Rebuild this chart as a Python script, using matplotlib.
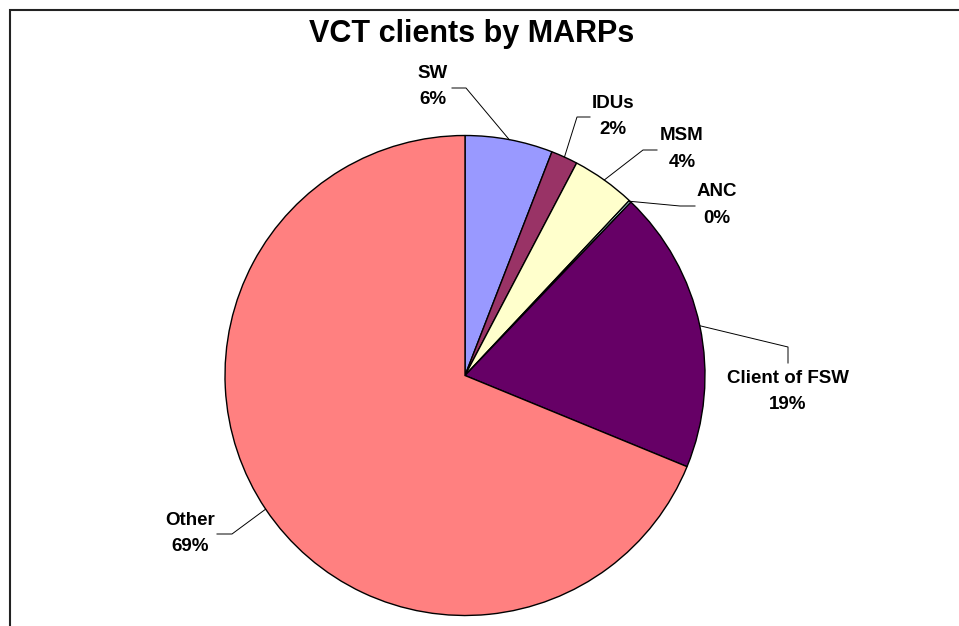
import matplotlib
matplotlib.use("Agg")
import matplotlib.pyplot as plt
from matplotlib.patches import Rectangle
import numpy as np

# ---- data ----
categories = ["SW", "IDUs", "MSM", "ANC", "Client of FSW", "Other"]
values = [5.9, 1.8, 4.3, 0.15, 19.05, 68.8]
colors = ["#9999FF", "#993366", "#FFFFCC", "#CCFFFF", "#660066", "#FF8080"]
title = "VCT clients by MARPs"

# ---- layout (pixel coords, y measured from top) ----
W, H = 959, 626
center_px = (465, 375.5)
radius_px = 240
label_pos = [(433, 86.5), (613, 116.5), (682, 149), (717, 205), (788, 391.5), (190, 533.5)]
# leader: (start of line near text, elbow)
leader_pts = [
    [(452, 88), (466, 88)],
    [(590, 117), (577, 117)],
    [(657, 150), (643, 150)],
    [(695, 206), (680, 206)],
    [(788, 363), (788, 347)],
    [(217, 534), (232, 534)],
]

plt.rcParams['font.family'] = ['Liberation Sans', 'DejaVu Sans']

fig = plt.figure(figsize=(W / 100, H / 100), dpi=100)
ax = fig.add_axes([0, 0, 1, 1])

cx, cy = center_px[0], H - center_px[1]
wedges, _ = ax.pie(values, colors=colors, startangle=90, counterclock=False,
                   center=(cx, cy), radius=radius_px, frame=True,
                   wedgeprops=dict(edgecolor='black', linewidth=1.0))
ax.set_xlim(0, W)
ax.set_ylim(0, H)
ax.set_aspect('auto')
ax.axis('off')

total = sum(values)
for w, cat, v, lp, lpts in zip(wedges, categories, values, label_pos, leader_pts):
    mid = np.deg2rad((w.theta1 + w.theta2) / 2)
    ex = cx + radius_px * np.cos(mid)
    ey = cy + radius_px * np.sin(mid)
    pct = int(round(v / total * 100))
    ax.text(lp[0], H - lp[1], f"{cat}\n{pct}%", ha='center', va='center',
            fontsize=13.5, fontweight='bold', linespacing=1.7)
    xs = [lpts[0][0], lpts[1][0], ex]
    ys = [H - lpts[0][1], H - lpts[1][1], ey]
    ax.plot(xs, ys, color='black', linewidth=0.7)

ax.text(472, H - 34, title, ha='center', va='center', fontsize=22, fontweight='bold')

ax.add_patch(Rectangle((9.5, -20), W + 40, H - 9.5 + 20, fill=False,
                       edgecolor='#222222', linewidth=1.5, clip_on=False))

fig.savefig("out.png", dpi=100)
